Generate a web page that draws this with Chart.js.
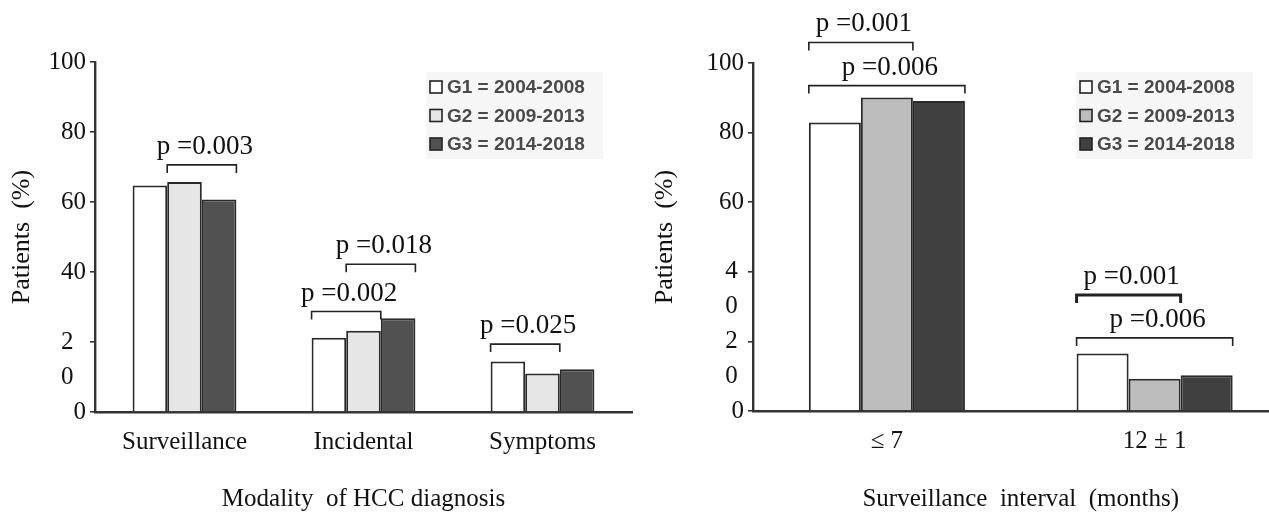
<!DOCTYPE html>
<html>
<head>
<meta charset="utf-8">
<script src="https://cdn.jsdelivr.net/npm/chart.js@4"></script>
<style>
  html, body { margin: 0; padding: 0; background: #fff; width: 1269px; height: 519px; overflow: hidden; }
  canvas { position: absolute; top: 0; }
  #modality { left: 0; }
  #interval { left: 640px; }
</style>
</head>
<body>
<canvas id="modality" width="640" height="519"></canvas>
<canvas id="interval" width="652" height="519"></canvas>
<script>
const groupLabels = ['G1 = 2004-2008', 'G2 = 2009-2013', 'G3 = 2014-2018'];

// left panel: modality of diagnosis (%)
const modalityLabels = ['Surveillance', 'Incidental', 'Symptoms'];
const modalityG1 = [64.7, 21.2, 14.4];
const modalityG2 = [65.7, 23.2, 11.0];
const modalityG3 = [60.7, 26.8, 12.2];
// y labels every 10 as printed in the figure (the "20" is broken over two lines)
const modalityTicks = ['0', '0', '2', '', '40', '', '60', '', '80', '', '100'];
// [category, first group, last group, bracket height, text]
const modalityPvalues = [
  [0, 1, 2, 70.6, 'p =0.003'],
  [1, 0, 1, 28.7, 'p =0.002'],
  [1, 1, 2, 42.2, 'p =0.018'],
  [2, 0, 1, 19.4, 'p =0.025']
];

// right panel: surveillance interval (%)
const intervalLabels = ['\u2264 7', '12 \u00b1 1'];
const intervalG1 = [82.9, 16.5];
const intervalG2 = [90.1, 9.3];
const intervalG3 = [89.1, 10.3];
const intervalTicks = ['0', '0', '2', '0', '4', '', '60', '', '80', '', '100'];
const intervalPvalues = [
  [0, 0, 1, 105.9, 'p =0.001'],
  [0, 0, 2, 93.5, 'p =0.006'],
  [1, 0, 1, 33.3, 'p =0.001'],
  [1, 0, 2, 21.0, 'p =0.006']
];

const serif = 'Liberation Serif';

// brackets with p values
const pValuePlugin = {
  id: 'pvalues',
  afterDatasetsDraw(chart, args, opts) {
    const ctx = chart.ctx;
    const yScale = chart.scales.y;
    ctx.save();
    ctx.strokeStyle = '#222';
    ctx.fillStyle = '#111';
    ctx.font = '27px "' + serif + '"';
    ctx.textAlign = 'center';
    ctx.textBaseline = 'alphabetic';
    opts.items.forEach(function(item, i) {
      const a = chart.getDatasetMeta(item[1]).data[item[0]];
      const b = chart.getDatasetMeta(item[2]).data[item[0]];
      const x1 = a.x - a.width / 2;
      const x2 = b.x + b.width / 2;
      const yy = yScale.getPixelForValue(item[3]);
      ctx.lineWidth = opts.thick === i ? 3 : 1.6;
      ctx.beginPath();
      ctx.moveTo(x1, yy + 8);
      ctx.lineTo(x1, yy);
      ctx.lineTo(x2, yy);
      ctx.lineTo(x2, yy + 8);
      ctx.stroke();
      ctx.fillText(item[4], (x1 + x2) / 2 + 3, yy - 11);
    });
    ctx.restore();
  }
};

// small boxed legend in the upper right of the plot
const boxLegend = {
  id: 'boxLegend',
  afterDraw(chart, args, opts) {
    const ctx = chart.ctx;
    const area = chart.chartArea;
    const x = area.right - opts.right;
    const top = area.top + opts.top;
    const row = 28.5;
    ctx.save();
    ctx.fillStyle = '#f6f6f6';
    ctx.fillRect(x - 4, top - 15, 177, row * 2 + 30);
    ctx.font = 'bold 19px "Liberation Sans"';
    ctx.textBaseline = 'middle';
    ctx.textAlign = 'left';
    chart.data.datasets.forEach(function(ds, i) {
      const cy = top + i * row;
      ctx.fillStyle = ds.backgroundColor;
      ctx.fillRect(x, cy - 6, 12, 12);
      ctx.lineWidth = 1.6;
      ctx.strokeStyle = '#222';
      ctx.strokeRect(x, cy - 6, 12, 12);
      ctx.fillStyle = '#4a4a4a';
      ctx.fillText(ds.label, x + 17, cy + 1);
    });
    ctx.restore();
  }
};

function makeChart(id, cfg) {
  const font = { family: serif, size: 25 };
  const titleFont = { family: serif, size: 26 };
  const datasets = [cfg.g1, cfg.g2, cfg.g3].map(function(values, i) {
    return {
      label: groupLabels[i],
      data: values,
      backgroundColor: cfg.colors[i],
      borderColor: '#2a2a2a',
      borderWidth: 2,
      categoryPercentage: cfg.catPct,
      barPercentage: 1
    };
  });

  return new Chart(document.getElementById(id).getContext('2d'), {
    type: 'bar',
    data: { labels: cfg.labels, datasets: datasets },
    plugins: [pValuePlugin, boxLegend],
    options: {
      responsive: false,
      animation: false,
      devicePixelRatio: 1,
      layout: { padding: { top: cfg.top, right: cfg.right, left: 0, bottom: 0 } },
      plugins: {
        legend: { display: false },
        tooltip: { enabled: false },
        pvalues: { items: cfg.pvalues, thick: cfg.thick },
        boxLegend: { right: cfg.legendRight, top: cfg.legendTop }
      },
      scales: {
        x: {
          afterFit: function(s) { s.height = cfg.xHeight; },
          grid: { display: false, drawTicks: false },
          border: { color: '#333', width: 2.4 },
          ticks: { padding: 15, color: '#111', font: font },
          title: {
            display: true,
            text: cfg.xTitle,
            color: '#111',
            font: font,
            padding: { top: 0, bottom: 5 }
          }
        },
        y: {
          min: 0,
          max: 100,
          afterFit: function(s) { s.width = cfg.yWidth; },
          grid: {
            drawOnChartArea: false,
            drawTicks: true,
            tickLength: 5,
            lineWidth: 1.6,
            color: function(c) {
              return (c.tick && c.tick.value % 20 === 0) ? '#333' : 'rgba(0,0,0,0)';
            }
          },
          border: { color: '#333', width: 2.4 },
          ticks: {
            stepSize: 10,
            autoSkip: false,
            padding: 4,
            color: '#111',
            font: font,
            callback: function(v) {
              const lbl = cfg.ticks[Math.round(v / 10)] || '';
              return (lbl.length === 1 && v > 0) ? lbl + cfg.tickPad : lbl;
            }
          },
          title: {
            display: true,
            text: 'Patients  (%)',
            color: '#111',
            font: titleFont,
            padding: { top: cfg.yTitlePad, bottom: 0 }
          }
        }
      }
    }
  });
}

makeChart('modality', {
  labels: modalityLabels,
  g1: modalityG1, g2: modalityG2, g3: modalityG3,
  colors: ['#ffffff', '#e6e6e6', '#515151'],
  ticks: modalityTicks,
  tickPad: '  ',
  pvalues: modalityPvalues,
  thick: -1,
  xTitle: 'Modality  of HCC diagnosis',
  catPct: 0.58,
  top: 62, right: 8,
  yWidth: 95, xHeight: 107,
  yTitlePad: 7,
  legendRight: 202, legendTop: 25
});

makeChart('interval', {
  labels: intervalLabels,
  g1: intervalG1, g2: intervalG2, g3: intervalG3,
  colors: ['#ffffff', '#bdbdbd', '#404040'],
  ticks: intervalTicks,
  tickPad: ' ',
  pvalues: intervalPvalues,
  thick: 2,
  xTitle: 'Surveillance  interval  (months)',
  catPct: 0.583,
  top: 63, right: 3.5,
  yWidth: 113, xHeight: 108,
  yTitlePad: 10,
  legendRight: 208.5, legendTop: 24
});
</script>
</body>
</html>
